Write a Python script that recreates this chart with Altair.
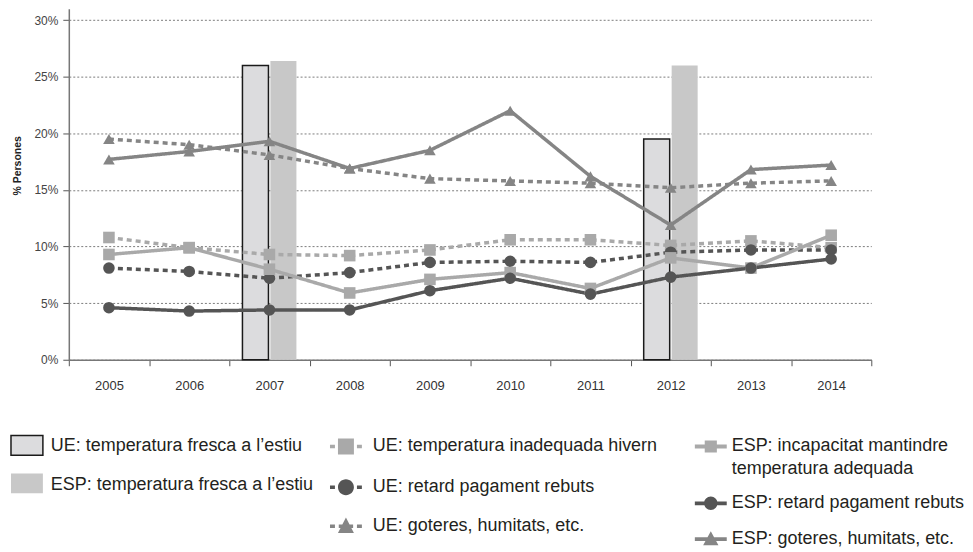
import altair as alt
import pandas as pd

FONT = "Liberation Sans, Arial, sans-serif"

# ---------------- data ----------------
years = [2005, 2006, 2007, 2008, 2009, 2010, 2011, 2012, 2013, 2014]

ue_temp_hivern = [10.8, 9.9, 9.3, 9.2, 9.7, 10.6, 10.6, 10.1, 10.5, 9.9]
ue_retard = [8.1, 7.8, 7.2, 7.7, 8.6, 8.7, 8.6, 9.5, 9.7, 9.7]
ue_goteres = [19.5, 19.0, 18.1, 16.9, 16.0, 15.8, 15.6, 15.2, 15.6, 15.8]
esp_incapacitat = [9.3, 9.9, 8.0, 5.9, 7.1, 7.7, 6.3, 9.0, 8.1, 11.0]
esp_retard = [4.6, 4.3, 4.4, 4.4, 6.1, 7.2, 5.8, 7.3, 8.1, 8.9]
esp_goteres = [17.7, 18.4, 19.3, 16.9, 18.5, 22.0, 16.2, 11.9, 16.8, 17.2]

bar_years = [2007, 2012]
ue_estiu = [26.0, 19.5]
esp_estiu = [26.4, 26.0]

bar_names = ["UE: temperatura fresca a l’estiu", "ESP: temperatura fresca a l’estiu"]
line_names = [
    "UE: temperatura inadequada hivern",
    "UE: retard pagament rebuts",
    "UE: goteres, humitats, etc.",
    "ESP: incapacitat mantindre temperatura adequada",
    "ESP: retard pagament rebuts",
    "ESP: goteres, humitats, etc.",
]
line_values = [ue_temp_hivern, ue_retard, ue_goteres, esp_incapacitat, esp_retard, esp_goteres]

# ---------------- styles ----------------
DARK = "#555555"
MID = "#858585"
LIGHT = "#a9a9a9"
UE_BAR = "#dcdcde"
ESP_BAR = "#c8c8c8"

line_colors = [LIGHT, DARK, MID, LIGHT, DARK, MID]
line_shapes = ["square", "circle", "triangle-up", "square", "circle", "triangle-up"]
line_dashes = [[5, 4], [5, 4], [5, 4], [1, 0], [1, 0], [1, 0]]

# ---------------- frames ----------------
rows = []
for name, vals in zip(line_names, line_values):
    for yr, v in zip(years, vals):
        rows.append({"any": str(yr), "serie": name, "valor": v})
lines_df = pd.DataFrame(rows)

brows = []
for name, vals in zip(bar_names, [ue_estiu, esp_estiu]):
    for yr, v in zip(bar_years, vals):
        brows.append({"any": str(yr), "serie": name, "valor": v})
bars_df = pd.DataFrame(brows)

x_dom = [str(y) for y in years]

x_enc = alt.X(
    "any:O",
    scale=alt.Scale(domain=x_dom, paddingInner=0, paddingOuter=0),
    axis=alt.Axis(
        title=None, labelAngle=0, tickBand="extent", labelFontSize=13,
        labelColor="#333333", labelPadding=14, tickSize=6, tickColor="#555555",
        domainColor="#777777", domainWidth=1.5, grid=False, labelFont=FONT,
    ),
)
y_enc = alt.Y(
    "valor:Q",
    scale=alt.Scale(domain=[0, 31], nice=False),
    axis=alt.Axis(
        values=[0, 5, 10, 15, 20, 25, 30], labelExpr="datum.value + '%'",
        labelFontSize=12, labelColor="#444444", labelPadding=5, labelFont=FONT,
        tickSize=6, tickColor="#555555", domainColor="#777777", domainWidth=1.5,
        grid=True, gridColor="#444444", gridDash=[2, 2], gridWidth=0.7,
        title="% Persones", titleFont=FONT, titleFontSize=10.5, titleFontWeight="bold",
        titleColor="#222222", titleX=-51, titleY=157, titleAngle=-90,
        titleAlign="center", titleBaseline="middle",
    ),
)

bars = alt.Chart(bars_df).mark_bar(strokeWidth=1.5).encode(
    x=x_enc,
    xOffset=alt.XOffset("serie:N", scale=alt.Scale(domain=bar_names, paddingInner=0.07, paddingOuter=0.47)),
    y=y_enc,
    fill=alt.Fill("serie:N", scale=alt.Scale(domain=bar_names, range=[UE_BAR, ESP_BAR]), legend=None),
    stroke=alt.Stroke("serie:N", scale=alt.Scale(domain=bar_names, range=["#1a1a1a", "transparent"]), legend=None),
)

lines = alt.Chart(lines_df).mark_line(strokeWidth=3.5).encode(
    x=x_enc,
    y=y_enc,
    color=alt.Color("serie:N", scale=alt.Scale(domain=line_names, range=line_colors), legend=None),
    strokeDash=alt.StrokeDash("serie:N", scale=alt.Scale(domain=line_names, range=line_dashes), legend=None),
)

points = alt.Chart(lines_df).mark_point(filled=True, size=135, opacity=1).encode(
    x=x_enc,
    y=y_enc,
    color=alt.Color("serie:N", scale=alt.Scale(domain=line_names, range=line_colors), legend=None),
    shape=alt.Shape("serie:N", scale=alt.Scale(domain=line_names, range=line_shapes), legend=None),
)

main = alt.layer(bars, lines, points).properties(width=805, height=352)

# ---------------- legend ----------------
leg_keys = ["leg_" + k for k in bar_names + line_names]
leg_labels = bar_names + line_names[:3] + [
    "ESP: incapacitat mantindre\ntemperatura adequada",
    line_names[4], line_names[5],
]
d_l = "M-1,-0.11H-0.69V0.11H-1Z"
d_r = "M0.69,-0.11H1V0.11H0.69Z"
solid = "M-1,-0.12H1V0.12H-1Z"
leg_paths = [
    "M-1,-0.62H1V0.62H-1Z",
    "M-1,-0.62H1V0.62H-1Z",
    d_l + " M-0.5,-0.5H0.5V0.5H-0.5Z " + d_r,
    d_l + " M-0.5,0A0.5,0.5 0 1,1 0.5,0A0.5,0.5 0 1,1 -0.5,0Z " + d_r,
    d_l + " M-0.45,-0.11H0.45V0.11H-0.45Z M0,-0.55L0.5,0.42H-0.5Z " + d_r,
    solid + " M-0.38,-0.38H0.38V0.38H-0.38Z",
    solid + " M-0.42,0A0.42,0.42 0 1,1 0.42,0A0.42,0.42 0 1,1 -0.42,0Z",
    solid + " M0,-0.5L0.48,0.38H-0.48Z",
]
leg_fill = [UE_BAR, ESP_BAR, LIGHT, DARK, MID, LIGHT, DARK, MID]
leg_stroke = ["#1a1a1a"] + ["transparent"] * 7

# legend layout (pixels relative to the plot's left edge)
LEG_W, LEG_H = 890, 125
sym_x = [-42, -42, 278, 278, 278, 644, 644, 644]
sym_y = [24, 62, 25, 66, 105, 25, 82, 118]
txt_x = [-18, -18, 305, 305, 305, 665, 665, 665]
txt_y = [25, 64, 25, 66, 105, 25, 82, 118]

leg_df = pd.DataFrame({
    "key": leg_keys, "label": leg_labels,
    "sx": sym_x, "sy": sym_y, "tx": txt_x, "ty": txt_y,
})

lx = alt.Scale(domain=[0, LEG_W], range=[0, LEG_W])
ly = alt.Scale(domain=[0, LEG_H], range=[0, LEG_H])

leg_sym = alt.Chart(leg_df).mark_point(filled=True, opacity=1, strokeWidth=1.5, size=1024).encode(
    x=alt.X("sx:Q", scale=lx, axis=None),
    y=alt.Y("sy:Q", scale=ly, axis=None),
    shape=alt.Shape("key:N", scale=alt.Scale(domain=leg_keys, range=leg_paths), legend=None),
    fill=alt.Fill("key:N", scale=alt.Scale(domain=leg_keys, range=leg_fill), legend=None),
    stroke=alt.Stroke("key:N", scale=alt.Scale(domain=leg_keys, range=leg_stroke), legend=None),
)
leg_txt = alt.Chart(leg_df).mark_text(
    align="left", baseline="middle", fontSize=18, font=FONT, color="#231f20",
    lineBreak="\n", lineHeight=23,
).encode(
    x=alt.X("tx:Q", scale=lx, axis=None),
    y=alt.Y("ty:Q", scale=ly, axis=None),
    text="label:N",
)
legend = alt.layer(leg_sym, leg_txt).properties(width=LEG_W, height=LEG_H)

chart = (
    alt.vconcat(main, legend, spacing=29)
    .resolve_scale(shape="independent", fill="independent", stroke="independent", color="independent")
    .properties(padding=0)
    .configure_view(stroke=None)
)

chart.save("out.html", embed_options={"renderer": "svg", "actions": False})
